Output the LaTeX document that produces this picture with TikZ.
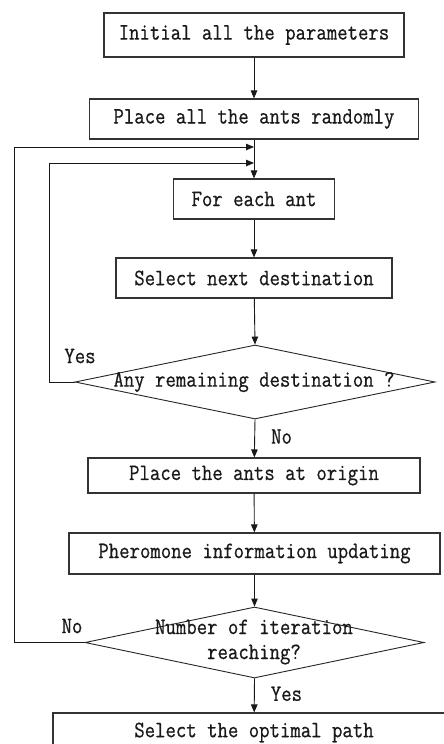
\documentclass[tikz,border=0pt]{standalone}
\usepackage{fontspec}
\newfontfamily\flowmono[FakeStretch=0.86,FakeBold=0.6]{Latin Modern Mono}
\usetikzlibrary{shapes.geometric,arrows.meta}
\begin{document}
\begin{tikzpicture}[x=1pt,y=-1pt,
  every node/.style={font=\flowmono\fontsize{23.5}{25}\selectfont, text=black!90},
  stepbox/.style={draw=black!80, line width=1.1pt, rectangle, inner sep=0pt},
  decision/.style={draw=black!85, line width=0.9pt, diamond, inner sep=0pt},
  lbl/.style={inner sep=0pt},
  flow/.style={draw=black!90, line width=0.9pt, -{Triangle[length=8pt,width=6.5pt]}},
  link/.style={draw=black!90, line width=0.9pt}]
\useasboundingbox (0,0) rectangle (444,744);
\clip (0,0) rectangle (444,744);
\fill[white] (0,0) rectangle (444,744);

\node[stepbox, minimum width=300pt, minimum height=44pt] (b1) at (254,35) {Initial all the parameters};
\node[stepbox, minimum width=329pt, minimum height=40pt] (b2) at (254,119) {Place all the ants randomly};
\node[stepbox, minimum width=161pt, minimum height=40pt] (b3) at (254,199) {For each ant};
\node[stepbox, minimum width=276pt, minimum height=40pt] (b4) at (254,278) {Select next destination};
\node[decision, minimum width=360pt, minimum height=74pt] (d1) at (255,382) {};
\node[lbl] (d1t) at (254,382) {Any remaining destination ?};
\node[stepbox, minimum width=332pt, minimum height=35pt] (b5) at (254,475.5) {Place the ants at origin};
\node[stepbox, minimum width=371pt, minimum height=41pt] (b6) at (254.5,553.5) {Pheromone information updating};
\node[decision, minimum width=339pt, minimum height=71pt] (d2) at (254.5,642.5) {};
\node[lbl, align=center] (d2t) at (254,642) {Number of iteration\\reaching?};
\node[stepbox, minimum width=402pt, minimum height=39pt] (b7) at (254,732.5) {Select the optimal path};

\coordinate (j1) at (254,147);
\coordinate (j2) at (254,163);
\coordinate (o1) at (14,147);
\coordinate (i1) at (49,163);

\draw[flow] (b1) -- (b2);
\draw[flow] (b2) -- (b3);
\draw[flow] (b3) -- (b4);
\draw[flow] (b4) -- (d1.north);
\draw[flow] (d1.south) -- (b5) node[lbl, pos=0.45, right=16pt] (no1) {No};
\draw[flow] (b5) -- (b6);
\draw[flow] (b6) -- (d2.north);
\draw[flow] (d2.south) -- (b7) node[lbl, pos=0.45, right=16pt] (yes2) {Yes};

\draw[flow] (d1.west) -- (i1 |- d1.west) -- (i1) -- (j2);
\draw[flow] (d2.west) -- (o1 |- d2.west) -- (o1) -- (j1);

\node[lbl] (yes1) at (80,356) {Yes};
\node[lbl] (no2) at (72,626) {No};
\end{tikzpicture}
\end{document}
